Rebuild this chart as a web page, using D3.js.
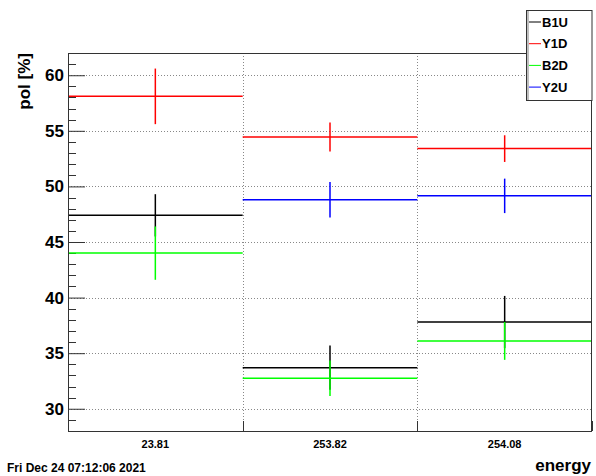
<!DOCTYPE html>
<html>
<head>
<meta charset="utf-8">
<script src="https://cdn.jsdelivr.net/npm/d3@7"></script>
<style>
  html, body { margin: 0; padding: 0; background: #fff; }
  svg { display: block; }
  text { font-family: "Liberation Sans", Arial, Helvetica, sans-serif; font-weight: bold; }
</style>
</head>
<body>
<svg id="chart" width="596" height="476"></svg>
<script>
// ---- data ----
const categories = ["23.81", "253.82", "254.08"];
const seriesNames = ["B1U", "Y1D", "B2D", "Y2U"];
const seriesColors = ["#000000", "#ff0000", "#00ff00", "#0000ff"];
const B1U = [47.4, 33.7, 37.8];
const B1U_err = [1.9, 2.0, 2.35];
const Y1D = [58.1, 54.45, 53.4];
const Y1D_err = [2.5, 1.3, 1.2];
const B2D = [44.0, 32.75, 36.1];
const B2D_err = [2.4, 1.6, 1.7];
const Y2U = [null, 48.8, 49.15];
const Y2U_err = [null, 1.6, 1.55];
const yMajorTicks = [30, 35, 40, 45, 50, 55, 60];
const yDomain = [28, 62];
const xTitle = "energy";
const yTitle = "pol [%]";
const dateText = "Fri Dec 24 07:12:06 2021";

const seriesValues = [B1U, Y1D, B2D, Y2U];
const seriesErrors = [B1U_err, Y1D_err, B2D_err, Y2U_err];

// ---- layout ----
const L = 68, R = 592, T = 53, B = 431;
const svg = d3.select("#chart");

const x = d3.scaleBand().domain(categories).range([L, R]).paddingInner(0).paddingOuter(0);
const y = d3.scaleLinear().domain(yDomain).range([B, T]);

// grid
const grid = svg.append("g");
grid.selectAll("line.hg").data(yMajorTicks).enter().append("line")
  .attr("x1", L).attr("x2", R)
  .attr("y1", d => Math.round(y(d)) + 0.5).attr("y2", d => Math.round(y(d)) + 0.5)
  .attr("stroke", "#888").attr("stroke-width", 1).attr("stroke-dasharray", "1,2");
const edges = categories.slice(1).map(c => x(c));
grid.selectAll("line.vg").data(edges).enter().append("line")
  .attr("x1", d => Math.round(d) + 0.5).attr("x2", d => Math.round(d) + 0.5)
  .attr("y1", T).attr("y2", B)
  .attr("stroke", "#888").attr("stroke-width", 1).attr("stroke-dasharray", "1,2");

// y axis ticks (inward)
const yAxisG = svg.append("g").attr("transform", `translate(${L},0)`);
const minorTicks = d3.range(Math.ceil(yDomain[0]), Math.floor(yDomain[1]) + 1).filter(v => !yMajorTicks.includes(v));
yAxisG.selectAll("line.minor").data(minorTicks).enter().append("line")
  .attr("x1", 0).attr("x2", 8)
  .attr("y1", d => Math.round(y(d)) + 0.5).attr("y2", d => Math.round(y(d)) + 0.5)
  .attr("stroke", "#333").attr("stroke-width", 1);
const yAxis = d3.axisRight(y).tickValues(yMajorTicks).tickSize(17).tickFormat("");
const yAx = yAxisG.append("g").call(yAxis);
yAx.select(".domain").remove();
yAx.selectAll(".tick line").attr("stroke", "#333");
// y tick labels
svg.append("g").selectAll("text").data(yMajorTicks).enter().append("text")
  .attr("x", 64).attr("y", d => y(d) + 6)
  .attr("text-anchor", "end").attr("font-size", 17).attr("fill", "#000")
  .text(d => d);

// x axis ticks at bin edges
const xEdgesAll = [L, ...edges, R];
svg.append("g").selectAll("line").data(xEdgesAll).enter().append("line")
  .attr("x1", d => Math.round(d) + 0.5).attr("x2", d => Math.round(d) + 0.5)
  .attr("y1", B).attr("y2", B - 10)
  .attr("stroke", "#333").attr("stroke-width", 1);
const xAxis = d3.axisBottom(x).tickSize(0).tickPadding(0);
const xAx = svg.append("g").attr("transform", `translate(0,${B})`).call(xAxis);
xAx.select(".domain").remove();
xAx.selectAll("text")
  .attr("y", 17).attr("dy", 0)
  .attr("font-size", 11).attr("font-family", "Liberation Sans, Arial, sans-serif")
  .attr("font-weight", "bold").attr("fill", "#000");

// series
const plot = svg.append("g");
seriesNames.forEach((name, si) => {
  const vals = seriesValues[si], errs = seriesErrors[si], col = seriesColors[si];
  const pts = categories.map((c, i) => ({ c, v: vals[i], e: errs[i] })).filter(p => p.v != null);
  const g = plot.append("g");
  g.selectAll("line.h").data(pts).enter().append("line")
    .attr("x1", d => x(d.c)).attr("x2", d => x(d.c) + x.bandwidth())
    .attr("y1", d => y(d.v)).attr("y2", d => y(d.v))
    .attr("stroke", col).attr("stroke-width", 1.5);
  g.selectAll("line.v").data(pts).enter().append("line")
    .attr("x1", d => x(d.c) + x.bandwidth() / 2).attr("x2", d => x(d.c) + x.bandwidth() / 2)
    .attr("y1", d => y(d.v + d.e)).attr("y2", d => y(d.v - d.e))
    .attr("stroke", col).attr("stroke-width", 1.5);
});

// frame
svg.append("rect").attr("x", L + 0.5).attr("y", T + 0.5)
  .attr("width", R - L - 1).attr("height", B - T)
  .attr("fill", "none").attr("stroke", "#333").attr("stroke-width", 1);

// legend
const lgX = 526, lgY = 10, lgW = 65.5, lgH = 90;
const lg = svg.append("g");
lg.append("rect").attr("x", lgX + 0.5).attr("y", lgY + 0.5).attr("width", lgW).attr("height", lgH)
  .attr("fill", "#fff").attr("stroke", "#333").attr("stroke-width", 1);
lg.append("line").attr("x1", lgX + 2).attr("x2", lgX + 2).attr("y1", lgY + 1).attr("y2", lgY + lgH)
  .attr("stroke", "#aaa").attr("stroke-width", 1.5);
seriesNames.forEach((name, i) => {
  const cy = 22 + i * 21.7;
  lg.append("line").attr("x1", 529).attr("x2", 541).attr("y1", cy).attr("y2", cy)
    .attr("stroke", seriesColors[i]).attr("stroke-width", 1);
  lg.append("text").attr("x", 542).attr("y", cy + 4.7).attr("font-size", 13).attr("fill", "#000").text(name);
});

// titles
svg.append("text").attr("transform", `translate(30,${T}) rotate(-90)`)
  .attr("text-anchor", "end").attr("font-size", 17).attr("fill", "#000").text(yTitle);
svg.append("text").attr("x", 591).attr("y", 471).attr("text-anchor", "end")
  .attr("font-size", 17).attr("fill", "#000").text(xTitle);
svg.append("text").attr("x", 7).attr("y", 472).attr("font-size", 12)
  .attr("fill", "#000").text(dateText);
</script>
</body>
</html>
